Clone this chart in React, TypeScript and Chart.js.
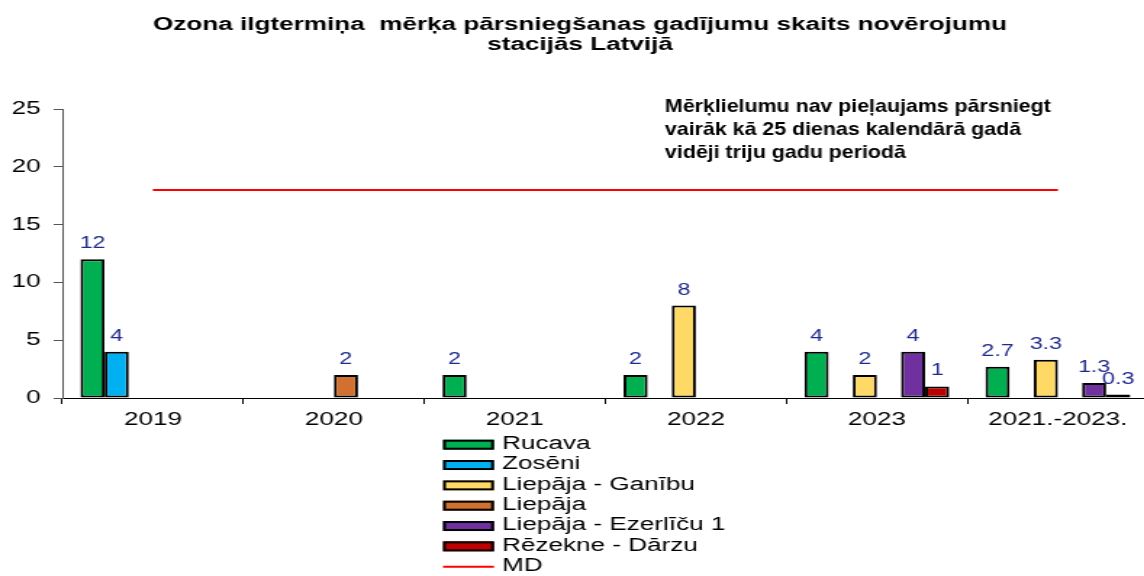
import React, { useEffect, useRef } from "react";
import { Chart, registerables } from "chart.js";

Chart.register(...registerables);

// ---- data ----
const categories = ["2019", "2020", "2021", "2022", "2023", "2021.-2023."];
const rucava = [12, null, 2, 2, 4, 2.7];
const zoseni = [4, null, null, null, null, null];
const liepajaGanibu = [null, null, null, 8, 2, 3.3];
const liepaja = [null, 2, null, null, null, null];
const liepajaEzerlicu = [null, null, null, null, 4, 1.3];
const rezekneDarzu = [null, null, null, null, 1, 0.3];
const mdValues = [18, 18, 18, 18, 18, 18];
const yTickValues = [0, 5, 10, 15, 20, 25];
const seriesNames = [
  "Rucava",
  "Zosēni",
  "Liepāja - Ganību",
  "Liepāja",
  "Liepāja - Ezerlīču 1",
  "Rēzekne - Dārzu",
  "MD",
];
const titleLines = [
  "Ozona ilgtermiņa  mērķa pārsniegšanas gadījumu skaits novērojumu",
  "stacijās Latvijā",
];
const noteLines = [
  "Mērķlielumu nav pieļaujams pārsniegt",
  "vairāk kā 25 dienas kalendārā gadā",
  "vidēji triju gadu periodā",
];

// ---- styling ----
const SX = 1.45; // horizontal stretch of the whole drawing
const FONT = '"Liberation Sans", Arial, sans-serif';
const COLORS = ["#00B050", "#00B0F0", "#FFD966", "#D2702F", "#7030A0", "#C00000"];
const LABEL_COLOR = "#202A8C";

const titlePlugin = {
  id: "titleText",
  afterDraw(chart: any) {
    const ctx = chart.ctx;
    ctx.save();
    ctx.fillStyle = "#000";
    ctx.font = `bold 18px ${FONT}`;
    ctx.textAlign = "center";
    ctx.textBaseline = "alphabetic";
    const cx = 580 / SX;
    ctx.fillText(titleLines[0], cx, 30);
    ctx.fillText(titleLines[1], cx, 50);
    ctx.restore();

    ctx.save();
    ctx.fillStyle = "#000";
    ctx.font = `bold 19px ${FONT}`;
    ctx.textAlign = "left";
    ctx.textBaseline = "alphabetic";
    noteLines.forEach((line, i) => {
      ctx.save();
      ctx.translate(665 / SX, 112 + i * 23);
      ctx.scale(0.775, 1);
      ctx.fillText(line, 0, 0);
      ctx.restore();
    });
    ctx.restore();
  },
};

const valueLabelPlugin = {
  id: "valueLabels",
  afterDatasetsDraw(chart: any) {
    const ctx = chart.ctx;
    ctx.save();
    ctx.fillStyle = LABEL_COLOR;
    ctx.font = `16px ${FONT}`;
    ctx.textAlign = "center";
    ctx.textBaseline = "alphabetic";
    chart.data.datasets.forEach((ds: any, di: number) => {
      if (ds.type === "line") return;
      const meta = chart.getDatasetMeta(di);
      meta.data.forEach((el: any, i: number) => {
        const v = ds.data[i];
        if (v === null || v === undefined) return;
        ctx.fillText(String(v), el.x, el.y - 11);
      });
    });
    ctx.restore();
  },
};

const legendPlugin = {
  id: "columnLegend",
  afterDraw(chart: any) {
    const ctx = chart.ctx;
    const boxX = 443 / SX;
    const boxW = 51 / SX;
    const textX = 502 / SX;
    const y0 = 444.7;
    const step = 20.33;
    ctx.save();
    ctx.font = `18px ${FONT}`;
    ctx.textAlign = "left";
    ctx.textBaseline = "middle";
    chart.data.datasets.forEach((ds: any, i: number) => {
      const cy = y0 + i * step;
      if (ds.type === "line") {
        ctx.strokeStyle = ds.borderColor;
        ctx.lineWidth = 2;
        ctx.beginPath();
        ctx.moveTo(boxX, cy);
        ctx.lineTo(boxX + boxW, cy);
        ctx.stroke();
      } else {
        ctx.fillStyle = ds.backgroundColor;
        ctx.fillRect(boxX, cy - 5, boxW, 10);
        ctx.strokeStyle = "#000";
        ctx.lineWidth = 2;
        ctx.strokeRect(boxX + 1, cy - 4, boxW - 2, 8);
      }
      ctx.fillStyle = "#000";
      ctx.fillText(ds.label, textX, cy - 0.5);
    });
    ctx.restore();
  },
};

export default function App() {
  const ref = useRef<HTMLCanvasElement | null>(null);

  useEffect(() => {
    if (!ref.current) return;
    const barSeries = [rucava, zoseni, liepajaGanibu, liepaja, liepajaEzerlicu, rezekneDarzu];
    const datasets: any[] = barSeries.map((data, i) => ({
      type: "bar",
      label: seriesNames[i],
      data,
      backgroundColor: COLORS[i],
      borderColor: "#000",
      borderWidth: 2,
      borderSkipped: false,
      categoryPercentage: 0.8,
      barPercentage: 1.0,
      order: 2,
    }));
    datasets.push({
      type: "line",
      label: seriesNames[6],
      data: mdValues,
      borderColor: "#FF0000",
      backgroundColor: "#FF0000",
      borderWidth: 2,
      pointRadius: 0,
      fill: false,
      order: 1,
    });

    const chart = new Chart(ref.current, {
      type: "bar",
      data: { labels: categories, datasets },
      options: {
        responsive: false,
        animation: false,
        devicePixelRatio: 1,
        layout: { padding: { top: 109, left: 0, right: 1, bottom: 0 } },
        plugins: {
          legend: { display: false },
          title: { display: false },
          tooltip: { enabled: false },
        },
        scales: {
          x: {
            grid: {
              drawOnChartArea: false,
              offset: true,
              tickLength: 6,
              tickColor: "#000",
              tickWidth: 1,
            },
            border: { color: "#000", width: 1 },
            ticks: {
              color: "#000",
              font: { family: FONT, size: 18 },
              padding: 5,
              maxRotation: 0,
              autoSkip: false,
            },
            afterFit: (s: any) => {
              s.height = 178;
            },
          },
          y: {
            min: 0,
            max: 25,
            grid: {
              drawOnChartArea: false,
              tickLength: 6,
              tickColor: "#555",
            },
            border: { color: "#555", width: 1 },
            ticks: {
              color: "#000",
              font: { family: FONT, size: 18 },
              padding: 9,
            },
            afterBuildTicks: (s: any) => {
              s.ticks = yTickValues.map((v) => ({ value: v }));
            },
            afterFit: (s: any) => {
              s.width = 43;
            },
          },
        },
      } as any,
      plugins: [titlePlugin, valueLabelPlugin, legendPlugin],
    });
    return () => chart.destroy();
  }, []);

  return (
    <div
      style={{
        position: "fixed",
        left: 0,
        top: 0,
        width: 1144,
        height: 576,
        overflow: "hidden",
        background: "#fff",
      }}
    >
      <canvas
        ref={ref}
        width={793}
        height={576}
        style={{ display: "block", transform: `scaleX(${SX})`, transformOrigin: "0 0" }}
      />
    </div>
  );
}
